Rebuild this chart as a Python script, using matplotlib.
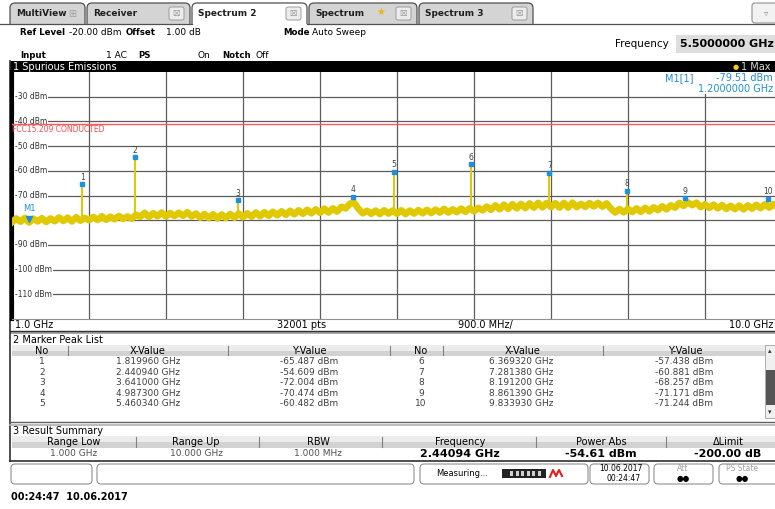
import numpy as np
import matplotlib.pyplot as plt
from matplotlib.patches import Rectangle, FancyBboxPatch

plt.rcParams['font.family'] = ['DejaVu Sans']

# max-hold trace, dBm every 50 MHz from 1.0 to 10.0 GHz
freq_ghz = np.linspace(1.0, 10.0, 181)
trace_dbm = [
    -80.8, -79.3, -80.6, -79.1, -80.9, -79.4, -80.5, -79.2, -80.7, -79.3,
    -80.4, -78.9, -80.3, -79.0, -80.5, -78.8, -80.2, -79.1, -80.0, -78.7,
    -79.9, -78.4, -79.8, -78.6, -79.6, -78.3, -79.5, -78.5, -79.4, -77.8,
    -78.6, -77.0, -78.7, -77.2, -78.4, -76.9, -78.5, -77.1, -78.3, -77.0,
    -78.2, -76.8, -78.5, -77.3, -79.0, -77.5, -79.2, -77.6, -79.3, -77.7,
    -79.1, -77.5, -79.0, -77.3, -78.8, -77.2, -78.6, -76.9, -78.4, -76.8,
    -78.2, -76.6, -78.0, -76.4, -77.8, -76.2, -77.6, -76.0, -77.4, -75.8,
    -77.2, -75.6, -77.0, -75.3, -76.9, -75.2, -76.5, -74.6, -75.2, -73.3,
    -73.0, -75.4, -77.2, -76.2, -77.4, -76.1, -77.5, -76.0, -77.3, -76.1,
    -77.4, -76.0, -77.5, -76.1, -77.3, -75.9, -77.2, -75.8, -77.1, -75.7,
    -76.9, -75.4, -76.9, -75.6, -76.7, -75.3, -76.6, -75.2, -76.4, -75.0,
    -76.0, -74.5, -75.8, -74.0, -75.6, -73.7, -75.4, -73.5, -75.2, -73.4,
    -75.1, -73.2, -74.9, -73.0, -74.8, -73.0, -74.7, -73.1, -74.9, -73.0,
    -74.9, -72.9, -74.7, -73.4, -74.6, -73.1, -74.4, -73.0, -74.5, -73.2,
    -75.3, -76.9, -75.5, -76.8, -75.4, -76.7, -75.2, -76.6, -75.0, -76.4,
    -74.8, -75.9, -74.4, -75.6, -74.0, -74.9, -73.0, -74.2, -72.8, -73.9,
    -72.9, -74.7, -73.6, -75.0, -73.7, -75.2, -73.9, -75.4, -74.2, -75.5,
    -74.1, -75.6, -74.0, -75.3, -73.8, -75.1, -73.6, -74.9, -73.5, -74.8,
    -73.6,
]

# marker peak list
marker_no = [1, 2, 3, 4, 5, 6, 7, 8, 9, 10]
marker_freq = [1.819960, 2.440940, 3.641000, 4.987300, 5.460340,
               6.369320, 7.281380, 8.191200, 8.861390, 9.833930]
marker_level = [-65.487, -54.609, -72.004, -70.474, -60.482,
                -57.438, -60.881, -68.257, -71.171, -71.244]

m1_freq = 1.2
m1_level = -79.51
limit_level = -41.2
y_grid = [-30, -40, -50, -60, -70, -80, -90, -100, -110]
y_labels = [-30, -40, -50, -60, -70, -90, -100, -110]  # -80 sits under the trace
x_grid = [1.9, 2.8, 3.7, 4.6, 5.5, 6.4, 7.3, 8.2, 9.1]

summary_head = ['Range Low', 'Range Up', 'RBW', 'Frequency', 'Power Abs', '\u0394Limit']
summary_vals = ['1.000 GHz', '10.000 GHz', '1.000 MHz', '2.44094 GHz', '-54.61 dBm', '-200.00 dB']

YEL = '#e0c900'
BLU = '#1e90dc'

fig = plt.figure(figsize=(7.75, 5.09), dpi=100)

# background axes in screen pixels
bg = fig.add_axes([0, 0, 1, 1])
bg.set_xlim(0, 775)
bg.set_ylim(509, 0)
bg.axis('off')


def box(a, x0, y0, x1, y1, fc, ec='none', lw=0.8, z=1):
    a.add_patch(Rectangle((x0, y0), x1 - x0, y1 - y0, fc=fc, ec=ec, lw=lw, zorder=z))


def rbox(a, x0, y0, x1, y1, fc, ec='#707070', lw=0.8, r=4, z=1):
    a.add_patch(FancyBboxPatch((x0, y0), x1 - x0, y1 - y0,
                               boxstyle='round,pad=0,rounding_size=%d' % r,
                               fc=fc, ec=ec, lw=lw, zorder=z))


def t(a, x, y, s, size=6.5, weight='normal', color='black', ha='left', z=3, **kw):
    a.text(x, y, s, fontsize=size, fontweight=weight, color=color, ha=ha,
           va='center', zorder=z, **kw)


# tabs
box(bg, 0, 0, 775, 24, '#ffffff')
tabs = [('MultiView', 10, 85), ('Receiver', 87, 190), ('Spectrum 2', 192, 307),
        ('Spectrum', 309, 417), ('Spectrum 3', 419, 533)]
for name, x0, x1 in tabs:
    active = name == 'Spectrum 2'
    rbox(bg, x0, 3, x1, 30, '#ffffff' if active else '#d4d4d4', ec='#505050', lw=0.9, r=5)
    t(bg, x0 + 6, 13.5, name, size=6.5, weight='bold', color='#202020')
    if name != 'MultiView':
        rbox(bg, x1 - 21, 7, x1 - 6, 20, '#ececec', ec='#909090', lw=0.6, r=2, z=2)
        t(bg, x1 - 13.5, 13.5, '\u2612', size=6, color='#8a8a8a', ha='center')
    else:
        t(bg, x1 - 13, 13.5, '\u229e', size=7, color='#a0a0a0', ha='center')
t(bg, 381, 12, '\u2605', size=7, color='#f0b400', ha='center', z=4)
box(bg, 0, 24, 775, 61, '#ffffff', z=2)
bg.plot([0, 192], [24, 24], color='#505050', lw=0.9, zorder=3)
bg.plot([307, 775], [24, 24], color='#505050', lw=0.9, zorder=3)
rbox(bg, 752, 3, 785, 23, '#f2f2f2', ec='#909090', lw=0.8, r=3)
t(bg, 766, 13, '\u25bf', size=6, color='#8090a0', ha='center')

# setting rows
t(bg, 20, 32, 'Ref Level', size=6.2, weight='bold')
t(bg, 69, 32, '-20.00 dBm')
t(bg, 126, 32, 'Offset', size=6.2, weight='bold')
t(bg, 166, 32, '1.00 dB')
t(bg, 283, 32, 'Mode', size=6.2, weight='bold')
t(bg, 312, 32, 'Auto Sweep')
t(bg, 20, 55, 'Input', size=6.2, weight='bold')
t(bg, 127, 55, '1 AC', ha='right')
t(bg, 138, 55, 'PS', size=6.2, weight='bold')
t(bg, 210, 55, 'On', ha='right')
t(bg, 222, 55, 'Notch', size=6.2, weight='bold')
t(bg, 256, 55, 'Off')
t(bg, 615, 44, 'Frequency', size=7.5)
box(bg, 676, 35, 790, 53, '#dedede', z=2)
t(bg, 680, 44, '5.5000000 GHz', size=8, weight='bold')

# window title bar
box(bg, 10, 61, 775, 72, '#000000', z=2)
t(bg, 13, 66.5, '1 Spurious Emissions', size=7, color='white')
t(bg, 736, 66.5, '\u25cf', size=5, color='#f0d000', ha='center')
t(bg, 741, 66.5, '1 Max', size=7, color='#d8d8d8')

# frequency strip under the diagram
box(bg, 10, 319, 775, 331, '#ffffff', z=2)
bg.plot([10, 775], [331, 331], color='#303030', lw=1, zorder=3)
box(bg, 10, 331, 775, 334, '#a8a8a8', z=2)
t(bg, 15, 325, '1.0 GHz', size=7)
t(bg, 302, 325, '32001 pts', size=7, ha='center')
t(bg, 485, 325, '900.0 MHz/', size=7, ha='center')
t(bg, 773, 325, '10.0 GHz', size=7, ha='right')

# diagram
ax = fig.add_axes([12 / 775, 1 - 319 / 509, 770 / 775, 247 / 509])
ax.set_xlim(1.0, 10.0)
ax.set_ylim(-120, -20)
ax.set_xticks(x_grid)
ax.set_yticks(y_grid)
ax.tick_params(length=0, labelbottom=False, labelleft=False)
ax.grid(color='#5c5c5c', lw=0.9)
ax.set_axisbelow(True)
ax.spines['left'].set_linewidth(3)
ax.spines['left'].set_color('black')
for s in ['top', 'right']:
    ax.spines[s].set_visible(False)
ax.spines['bottom'].set_color('#909090')

for v in y_labels:
    ax.text(1.035, v, '%d dBm' % v, fontsize=5.5, color='#303030', va='center',
            ha='left', zorder=3,
            bbox=dict(boxstyle='square,pad=0.15', fc='white', ec='none'))

ax.axhline(limit_level, color='#ff5a5a', lw=1, zorder=3)
ax.text(1.0, limit_level - 2.2, 'FCC15.209 CONDUCTED', fontsize=5.5, color='#ff4a4a',
        va='center', ha='left', zorder=3)

ax.plot(freq_ghz, trace_dbm, color=YEL, lw=4.8, zorder=4)
base = [trace_dbm[int(np.argmin(np.abs(freq_ghz - f)))] for f in marker_freq]
ax.vlines(marker_freq, base, marker_level, color=YEL, lw=1.4, zorder=4)
ax.plot(marker_freq, marker_level, 's', ms=3, color=BLU, zorder=5)
for n, f, lv in zip(marker_no, marker_freq, marker_level):
    ax.annotate(str(n), (f, lv), xytext=(0, 2), textcoords='offset points',
                ha='center', va='bottom', fontsize=5.5, color='#404040', zorder=6)
ax.plot([m1_freq], [m1_level], 'v', ms=5, color=BLU, zorder=6)
ax.annotate('M1', (m1_freq, m1_level), xytext=(0, 4), textcoords='offset points',
            ha='center', va='bottom', fontsize=6, color=BLU, zorder=6)

# overlay for the marker readout
ov = fig.add_axes([0, 0, 1, 1])
ov.set_xlim(0, 775)
ov.set_ylim(509, 0)
ov.axis('off')
box(ov, 660, 72, 775, 94, '#ffffff', z=1)
t(ov, 665, 78, 'M1[1]', size=7, color=BLU)
t(ov, 773, 78, '-79.51 dBm', size=7, color=BLU, ha='right')
t(ov, 773, 89, '1.2000000 GHz', size=7, color=BLU, ha='right')

# marker peak list
bg.plot([10, 10], [61, 461], color='#303030', lw=1.2, zorder=3)
t(bg, 13, 340, '2 Marker Peak List', size=7)
box(bg, 12, 345, 765, 350.5, '#ececec', z=2)
box(bg, 12, 350.5, 765, 356, '#d2d2d2', z=2)
for xd in [68, 228, 390, 443, 603]:
    bg.plot([xd, xd], [346, 355], color='#808080', lw=0.8, zorder=3)
for xc, s in [(42, 'No'), (148, 'X-Value'), (309, 'Y-Value'),
              (421, 'No'), (523, 'X-Value'), (685, 'Y-Value')]:
    t(bg, xc, 350.5, s, size=7, ha='center')
for i in range(5):
    y = 362 + 10.4 * i
    for k in (0, 5):
        j = i + k
        off = 0 if k == 0 else 379
        t(bg, 42 + off, y, str(marker_no[j]), size=6.5, color='#404040', ha='center')
        t(bg, 148 + off - (6 if k else 0), y, '%.6f GHz' % marker_freq[j], size=6.5,
          color='#404040', ha='center')
        t(bg, 309 + off - (4 if k else 0), y, '%.3f dBm' % marker_level[j], size=6.5,
          color='#404040', ha='center')
# scrollbar
box(bg, 765, 345, 775, 418, '#f0f0f0', ec='#a0a0a0', lw=0.6, z=2)
box(bg, 766, 370, 775, 405, '#555555', z=3)
t(bg, 770, 351, '\u25b4', size=5, color='#303030', ha='center')
t(bg, 770, 412, '\u25be', size=5, color='#303030', ha='center')
bg.plot([10, 775], [422, 422], color='#606060', lw=1, zorder=3)
bg.plot([10, 775], [424.5, 424.5], color='#b0b0b0', lw=1.2, zorder=3)

# result summary
t(bg, 13, 431, '3 Result Summary', size=7)
box(bg, 12, 436, 775, 442, '#ececec', z=2)
box(bg, 12, 442, 775, 448, '#d2d2d2', z=2)
for xd in [136, 259, 382, 536, 666]:
    bg.plot([xd, xd], [437, 447], color='#808080', lw=0.8, zorder=3)
centers = [74, 196, 318, 460, 601, 728]
for i, (xc, h, v) in enumerate(zip(centers, summary_head, summary_vals)):
    t(bg, xc, 442, h, size=7, ha='center')
    if i < 3:
        t(bg, xc, 454, v, size=6.5, color='#505050', ha='center')
    else:
        t(bg, xc, 454, v, size=8, weight='bold', ha='center')
bg.plot([10, 775], [460.5, 460.5], color='#303030', lw=1.2, zorder=3)

# status bar
rbox(bg, 11, 464, 92, 484, '#ffffff', ec='#909090')
rbox(bg, 97, 464, 414, 484, '#ffffff', ec='#909090')
rbox(bg, 420, 464, 588, 484, '#ffffff', ec='#909090')
rbox(bg, 590, 464, 649, 484, '#ffffff', ec='#909090')
rbox(bg, 654, 464, 713, 484, '#ffffff', ec='#909090')
rbox(bg, 719, 464, 785, 484, '#ffffff', ec='#909090')
t(bg, 436, 474, 'Measuring...', size=6)
box(bg, 502, 469, 546, 478, '#222222', z=2)
for k in range(6):
    box(bg, 510 + 5.5 * k, 471, 513 + 5.5 * k, 476, '#d0d0d0', z=3)
bg.plot([550, 553, 556, 559, 562], [477, 470, 476, 470, 476], color='#e02020', lw=1.5, zorder=3)
t(bg, 621, 468.5, '10.06.2017', size=5.5, ha='center')
t(bg, 624, 478.5, '00:24:47', size=5.5, ha='center')
t(bg, 683, 468.5, 'Att', size=5.5, color='#a0a0a0', ha='center')
t(bg, 683, 478.5, '\u25cf\u25cf', size=5.5, ha='center')
t(bg, 742, 468.5, 'PS State', size=5.5, color='#a0a0a0', ha='center')
t(bg, 742, 478.5, '\u25cf\u25cf', size=5.5, ha='center')

t(bg, 11, 497, '00:24:47  10.06.2017', size=7, weight='bold')

fig.savefig('out.png', dpi=100)
